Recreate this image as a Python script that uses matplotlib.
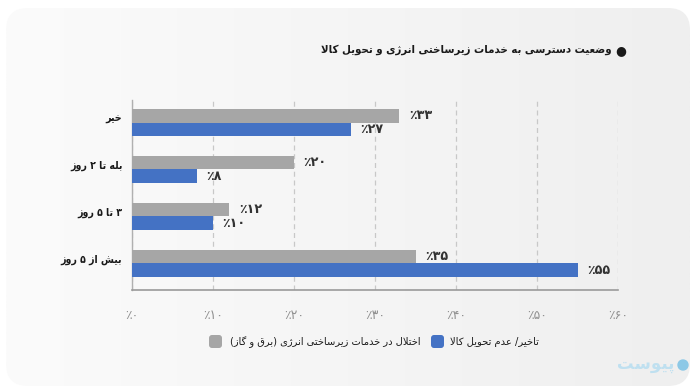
import re
import numpy as np
import matplotlib
matplotlib.use("Agg")
import matplotlib.pyplot as plt
from matplotlib.patches import FancyBboxPatch
from matplotlib.colors import LinearSegmentedColormap

# ---------------- data ----------------
categories = ["خیر", "بله تا ۲ روز", "۳ تا ۵ روز", "بیش از ۵ روز"]
infra_values = [33, 20, 12, 35]        # اختلال در خدمات زیرساختی انرژی (برق و گاز)
delivery_values = [27, 8, 10, 55]      # تاخیر/ عدم تحویل کالا
x_ticks = [0, 10, 20, 30, 40, 50, 60]
title = "وضعیت دسترسی به خدمات زیرساختی انرژی و تحویل کالا"
legend_infra = "اختلال در خدمات زیرساختی انرژی (برق و گاز)"
legend_delivery = "تاخیر/ عدم تحویل کالا"
logo = "پیوست"

GRAY = "#a6a6a6"
BLUE = "#4472c4"

# ---------------- minimal Persian shaping ----------------
FORMS = {
    'ا': ('\uFE8D', '\uFE8E', None, None),
    'آ': ('\uFE81', '\uFE82', None, None),
    'ب': ('\uFE8F', '\uFE90', '\uFE91', '\uFE92'),
    'پ': ('\uFB56', '\uFB57', '\uFB58', '\uFB59'),
    'ت': ('\uFE95', '\uFE96', '\uFE97', '\uFE98'),
    'ث': ('\uFE99', '\uFE9A', '\uFE9B', '\uFE9C'),
    'ج': ('\uFE9D', '\uFE9E', '\uFE9F', '\uFEA0'),
    'چ': ('\uFB7A', '\uFB7B', '\uFB7C', '\uFB7D'),
    'ح': ('\uFEA1', '\uFEA2', '\uFEA3', '\uFEA4'),
    'خ': ('\uFEA5', '\uFEA6', '\uFEA7', '\uFEA8'),
    'د': ('\uFEA9', '\uFEAA', None, None),
    'ذ': ('\uFEAB', '\uFEAC', None, None),
    'ر': ('\uFEAD', '\uFEAE', None, None),
    'ز': ('\uFEAF', '\uFEB0', None, None),
    'ژ': ('\uFB8A', '\uFB8B', None, None),
    'س': ('\uFEB1', '\uFEB2', '\uFEB3', '\uFEB4'),
    'ش': ('\uFEB5', '\uFEB6', '\uFEB7', '\uFEB8'),
    'ص': ('\uFEB9', '\uFEBA', '\uFEBB', '\uFEBC'),
    'ض': ('\uFEBD', '\uFEBE', '\uFEBF', '\uFEC0'),
    'ط': ('\uFEC1', '\uFEC2', '\uFEC3', '\uFEC4'),
    'ظ': ('\uFEC5', '\uFEC6', '\uFEC7', '\uFEC8'),
    'ع': ('\uFEC9', '\uFECA', '\uFECB', '\uFECC'),
    'غ': ('\uFECD', '\uFECE', '\uFECF', '\uFED0'),
    'ف': ('\uFED1', '\uFED2', '\uFED3', '\uFED4'),
    'ق': ('\uFED5', '\uFED6', '\uFED7', '\uFED8'),
    'ک': ('\uFB8E', '\uFB8F', '\uFB90', '\uFB91'),
    'گ': ('\uFB92', '\uFB93', '\uFB94', '\uFB95'),
    'ل': ('\uFEDD', '\uFEDE', '\uFEDF', '\uFEE0'),
    'م': ('\uFEE1', '\uFEE2', '\uFEE3', '\uFEE4'),
    'ن': ('\uFEE5', '\uFEE6', '\uFEE7', '\uFEE8'),
    'ه': ('\uFEE9', '\uFEEA', '\uFEEB', '\uFEEC'),
    'و': ('\uFEED', '\uFEEE', None, None),
    'ی': ('\uFBFC', '\uFBFD', '\uFBFE', '\uFBFF'),
    '\uFEFB': ('\uFEFB', '\uFEFC', None, None),  # lam-alef
}


def fa(text):
    s = text.replace('لا', '\uFEFB')
    n = len(s)
    out = []
    for i, c in enumerate(s):
        if c not in FORMS:
            out.append(c)
            continue
        prev = s[i - 1] if i > 0 else None
        nxt = s[i + 1] if i + 1 < n else None
        jp = prev in FORMS and FORMS[prev][2] is not None
        jn = nxt in FORMS and FORMS[c][2] is not None
        iso, fin, ini, med = FORMS[c]
        if jp and jn:
            out.append(med)
        elif jp:
            out.append(fin)
        elif jn:
            out.append(ini)
        else:
            out.append(iso)
    vis = ''.join(out)[::-1]
    vis = vis.translate(str.maketrans({'(': ')', ')': '('}))
    vis = re.sub(r'[۰-۹0-9]+', lambda m: m.group(0)[::-1], vis)
    return vis


def fa_num(v):
    return str(v).translate(str.maketrans('0123456789', '۰۱۲۳۴۵۶۷۸۹'))


def pct(v):
    return '٪' + fa_num(v)


plt.rcParams['font.family'] = ['DejaVu Sans']

W, H = 696, 391
fig = plt.figure(figsize=(W / 100, H / 100), dpi=100)
fig.patch.set_facecolor('white')

# background card with gradient
bg = fig.add_axes([0, 0, 1, 1])
bg.set_xlim(0, W)
bg.set_ylim(H, 0)
bg.axis('off')
grad = np.linspace(0, 1, 256).reshape(1, -1)
cmap = LinearSegmentedColormap.from_list('g', ['#fbfbfb', '#efefef'])
im = bg.imshow(grad, extent=[6, 690, 386, 8], aspect='auto', cmap=cmap, zorder=0)
card = FancyBboxPatch((6, 8), 684, 378, boxstyle="round,pad=0,rounding_size=22",
                      facecolor='none', edgecolor='none', transform=bg.transData)
bg.add_patch(card)
im.set_clip_path(card)

# title
bg.text(612, 50, fa(title), ha='right', va='center', fontsize=8.2, fontweight='bold',
        fontstretch='condensed', color='#1a1a1a')
bg.text(621, 51, '●', ha='center', va='center', fontsize=9, color='#1a1a1a')

# main axes
ax = fig.add_axes([132 / W, 1 - 290 / H, (618 - 132) / W, 190 / H])
ax.set_facecolor('none')
y = np.arange(len(categories))
bh = 0.29
ax.barh(y - bh / 2, infra_values, height=bh, color=GRAY, zorder=3)
ax.barh(y + bh / 2, delivery_values, height=bh, color=BLUE, zorder=3)

for yi, v in zip(y, infra_values):
    ax.text(v + 1.2, yi - bh / 2, pct(v), ha='left', va='center', fontsize=9.2,
            fontweight='bold', color='#333333')
for yi, v in zip(y, delivery_values):
    ax.text(v + 1.2, yi + bh / 2, pct(v), ha='left', va='center', fontsize=9.2,
            fontweight='bold', color='#333333')

ax.set_xlim(0, 60)
ax.set_ylim(3.57, -0.48)
ax.set_xticks(x_ticks)
ax.set_xticklabels([pct(t) for t in x_ticks], color='#909090', fontsize=9)
ax.set_yticks(y - 0.1)
ax.set_yticklabels([fa(c) for c in categories], fontsize=7.6, fontweight='bold',
                   fontstretch='condensed', color='#1a1a1a')
ax.tick_params(axis='x', length=0, pad=14)
ax.tick_params(axis='y', length=0, pad=7)
ax.grid(axis='x', linestyle=(0, (4, 3)), color='#c8c8c8', linewidth=0.9, zorder=0)
for sp in ['top', 'right']:
    ax.spines[sp].set_visible(False)
ax.spines['left'].set_color('#b0b0b0')
ax.spines['bottom'].set_color('#9a9a9a')
ax.spines['left'].set_linewidth(1.0)
ax.spines['bottom'].set_linewidth(1.2)

# legend
bg.add_patch(FancyBboxPatch((209, 335), 13, 13, boxstyle="round,pad=0,rounding_size=3",
                            facecolor=GRAY, edgecolor='none'))
bg.text(230, 342, fa(legend_infra), ha='left', va='center', fontsize=7.1, color='#1a1a1a')
bg.add_patch(FancyBboxPatch((431, 335), 13, 13, boxstyle="round,pad=0,rounding_size=3",
                            facecolor=BLUE, edgecolor='none'))
bg.text(450, 342, fa(legend_delivery), ha='left', va='center', fontsize=7.2, color='#1a1a1a')

# logo
bg.text(675, 364, fa(logo), ha='right', va='center', fontsize=12, fontweight='bold', color='#bfe0f0')
bg.add_patch(plt.Circle((683, 365), 5, color='#8cc8e6'))

fig.savefig('out.png', dpi=100, facecolor='white')
